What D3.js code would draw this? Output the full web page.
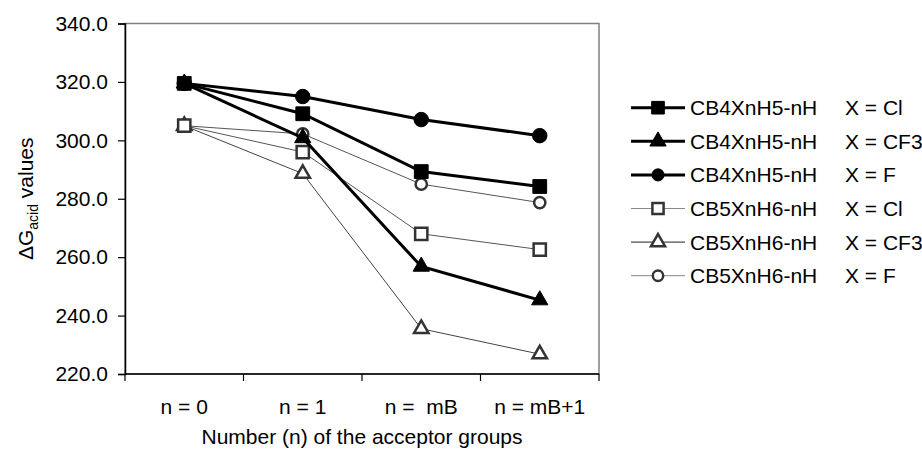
<!DOCTYPE html>
<html>
<head>
<script src="https://d3js.org/d3.v7.min.js"></script>
<style>
  body { margin: 0; background: #fff; }
  text { font-family: "Liberation Sans", Arial, sans-serif; fill: #000; }
</style>
</head>
<body>
<svg id="chart" width="922" height="452"></svg>
<script>
// categories on the x axis
var categories = ["n = 0", "n = 1", "n =  mB", "n = mB+1"];
var yTicks = [220, 240, 260, 280, 300, 320, 340];

// series values
var cb4Cl  = [319.5, 309.1, 289.3, 284.2];
var cb4CF3 = [319.5, 300.8, 256.8, 245.3];
var cb4F   = [319.5, 315.0, 307.1, 301.6];
var cb5Cl  = [305.0, 296.0, 268.0, 262.6];
var cb5CF3 = [305.0, 288.6, 235.5, 226.8];
var cb5F   = [305.0, 302.2, 285.0, 278.7];

var seriesNames = ["CB4XnH5-nH", "CB4XnH5-nH", "CB4XnH5-nH", "CB5XnH6-nH", "CB5XnH6-nH", "CB5XnH6-nH"];
var seriesX = ["X = Cl", "X = CF3", "X = F", "X = Cl", "X = CF3", "X = F"];
var seriesValues = [cb4Cl, cb4CF3, cb4F, cb5Cl, cb5CF3, cb5F];

// styles per series (not data)
var styles = [
  {shape: d3.symbolSquare,   fill: "#000", stroke: "#000", line: "#000", lw: 3, mk: 190, lg: 160},
  {shape: d3.symbolTriangle, fill: "#000", stroke: "#000", line: "#000", lw: 3, mk: 115, lg: 115},
  {shape: d3.symbolCircle,   fill: "#000", stroke: "#000", line: "#000", lw: 3, mk: 165, lg: 115},
  {shape: d3.symbolSquare,   fill: "#fff", stroke: "#333", line: "#555", lw: 1, legLine: "#888", mk: 150, lg: 125},
  {shape: d3.symbolTriangle, fill: "#fff", stroke: "#333", line: "#444", lw: 1, legLine: "#222", mk: 90, lg: 85},
  {shape: d3.symbolCircle,   fill: "#fff", stroke: "#333", line: "#555", lw: 1, legLine: "#888", mk: 100, lg: 85}
];

var svg = d3.select("#chart");
var pLeft = 125, pRight = 599, pTop = 23.5, pBottom = 374;

var x = d3.scaleBand().domain(categories).range([pLeft, pRight]);
var y = d3.scaleLinear().domain([220, 340]).range([pBottom, pTop]);

// plot area border
svg.append("rect")
  .attr("x", pLeft).attr("y", pTop)
  .attr("width", pRight - pLeft).attr("height", pBottom - pTop)
  .attr("fill", "none").attr("stroke", "#808080").attr("stroke-width", 1.5);

// y axis
var yAxis = svg.append("g")
  .attr("transform", "translate(" + pLeft + ",0)")
  .call(d3.axisLeft(y).tickValues(yTicks).tickFormat(d3.format(".1f")).tickSize(7).tickPadding(10));
yAxis.select(".domain").attr("stroke", "#000").attr("stroke-width", 1.5);
yAxis.selectAll(".tick line").attr("stroke", "#000").attr("stroke-width", 1.2);
yAxis.selectAll("text").style("font-size", "21px").attr("fill", "#000")
  .style("font-family", "'Liberation Sans', Arial, sans-serif");

// x axis: ticks between categories
var xg = svg.append("g");
xg.append("line")
  .attr("x1", pLeft).attr("x2", pRight).attr("y1", pBottom).attr("y2", pBottom)
  .attr("stroke", "#000").attr("stroke-width", 1.5);
var bounds = categories.map(function(c) { return x(c); }).concat([pRight]);
xg.selectAll("line.tk").data(bounds).enter().append("line")
  .attr("class", "tk")
  .attr("x1", d => d).attr("x2", d => d)
  .attr("y1", pBottom).attr("y2", pBottom + 7)
  .attr("stroke", "#000").attr("stroke-width", 1.2);
xg.selectAll("text").data(categories).enter().append("text")
  .attr("x", d => x(d) + x.bandwidth() / 2)
  .attr("y", 414)
  .attr("text-anchor", "middle")
  .style("font-size", "21px")
  .style("white-space", "pre")
  .text(d => d);

// axis titles
svg.append("text")
  .attr("x", (pLeft + pRight) / 2).attr("y", 444)
  .attr("text-anchor", "middle")
  .style("font-size", "21px")
  .text("Number (n) of the acceptor groups");

var yt = svg.append("text")
  .attr("transform", "translate(33," + ((pTop + pBottom) / 2) + ") rotate(-90)")
  .attr("text-anchor", "middle")
  .style("font-size", "21px");
yt.append("tspan").text("\u0394G");
yt.append("tspan").attr("dy", 5).style("font-size", "14px").text("acid");
yt.append("tspan").attr("dy", -5).text(" values");

// series lines and markers
var line = d3.line()
  .x((d, i) => x(categories[i]) + x.bandwidth() / 2)
  .y(d => y(d));

var plot = svg.append("g");
// thin series first, thick ones on top
[5, 4, 3, 2, 1, 0].forEach(function(k) {
  var st = styles[k];
  plot.append("path")
    .datum(seriesValues[k])
    .attr("d", line)
    .attr("fill", "none")
    .attr("stroke", st.line)
    .attr("stroke-width", st.lw);
  plot.selectAll("path.m" + k).data(seriesValues[k]).enter().append("path")
    .attr("class", "m" + k)
    .attr("d", d3.symbol().type(st.shape).size(st.mk))
    .attr("transform", (d, i) => "translate(" + (x(categories[i]) + x.bandwidth() / 2) + "," + y(d) + ")")
    .attr("fill", st.fill)
    .attr("stroke", st.stroke)
    .attr("stroke-width", st.lw > 1 ? 1 : 2.5);
});

// legend
var legY = d3.scaleLinear().domain([0, 5]).range([107.7, 275.7]);
var leg = svg.append("g");
seriesValues.forEach(function(v, k) {
  var st = styles[k];
  var cy = legY(k);
  leg.append("line")
    .attr("x1", 631).attr("x2", 685).attr("y1", cy).attr("y2", cy)
    .attr("stroke", st.legLine || st.line).attr("stroke-width", st.lw);
  leg.append("path")
    .attr("d", d3.symbol().type(st.shape).size(st.lg))
    .attr("transform", "translate(658," + cy + ")")
    .attr("fill", st.fill).attr("stroke", st.stroke)
    .attr("stroke-width", st.lw > 1 ? 1 : 2.5);
  leg.append("text")
    .attr("x", 690).attr("y", cy + 7.5)
    .style("font-size", "21px")
    .text(seriesNames[k]);
  leg.append("text")
    .attr("x", 845).attr("y", cy + 7.5)
    .style("font-size", "21px")
    .text(seriesX[k]);
});
</script>
</body>
</html>
